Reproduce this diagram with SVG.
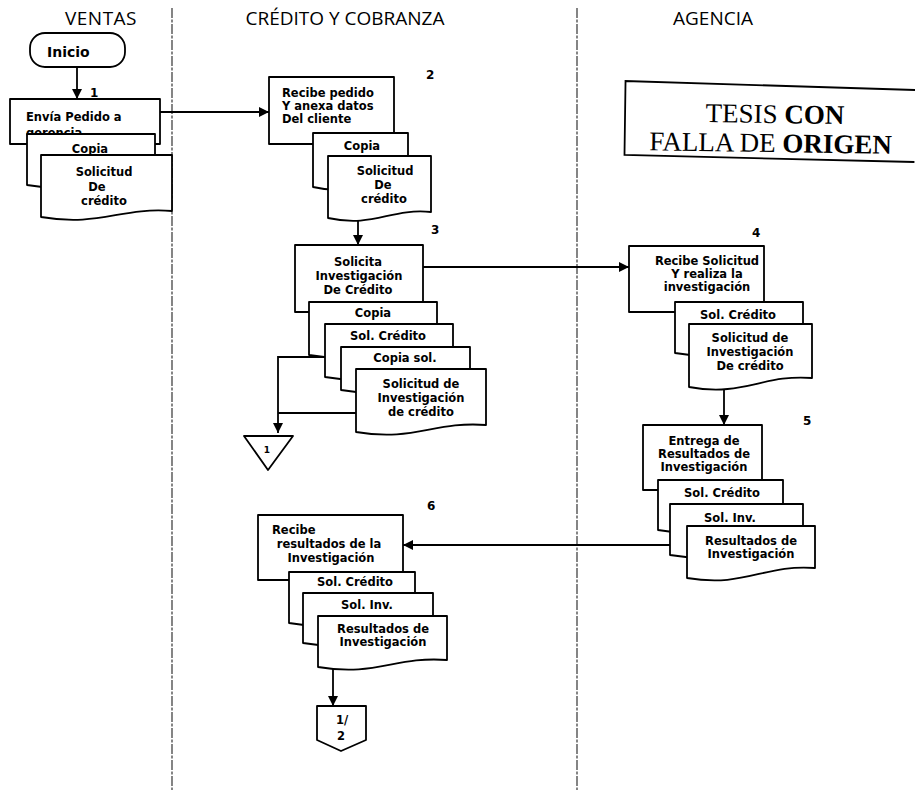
<svg xmlns="http://www.w3.org/2000/svg" width="915" height="793" viewBox="0 0 915 793">
  <defs>
    <marker id="arrow" viewBox="0 0 10 10" refX="10" refY="5" markerWidth="11" markerHeight="10" markerUnits="userSpaceOnUse" orient="auto">
      <path d="M0 0 L10 5 L0 10 Z" fill="#000"/>
    </marker>
    <style>
      .lane { stroke: #222; stroke-width: 1.1; stroke-dasharray: 10 1.5 3 1.5; fill: none; }
      .hdr { font-family: "Open Sans", "Noto Sans", sans-serif; font-size: 19px; font-weight: 500; fill: #000; }
      .shape { fill: #fff; stroke: #000; stroke-width: 1.8; stroke-linejoin: round; }
      .line { fill: none; stroke: #000; stroke-width: 1.8; }
      .t { font-family: "DejaVu Sans", "Open Sans", sans-serif; font-weight: 700; font-size: 11.5px; fill: #000; }
      .c { text-anchor: middle; }
      .num { font-family: "DejaVu Sans", "Open Sans", sans-serif; font-weight: 700; font-size: 12px; fill: #000; }
      .stamp { font-family: "Liberation Serif", "DejaVu Serif", serif; font-size: 27px; fill: #000; }
    </style>
  </defs>

  <rect width="915" height="793" fill="#fff"/>

  <!-- swimlanes -->
  <g id="lanes">
    <line class="lane" x1="172" y1="8" x2="172" y2="790"/>
    <line class="lane" x1="577" y1="8" x2="577" y2="790"/>
    <text class="hdr" x="101" y="25" text-anchor="middle" letter-spacing="0.5">VENTAS</text>
    <text class="hdr" x="345" y="25" text-anchor="middle">CRÉDITO Y COBRANZA</text>
    <text class="hdr" x="713" y="25" text-anchor="middle">AGENCIA</text>
  </g>

  <!-- step numbers -->
  <g id="step-numbers">
    <text class="num" x="90" y="97">1</text>
    <text class="num" x="426" y="79">2</text>
    <text class="num" x="431" y="234">3</text>
    <text class="num" x="752" y="237">4</text>
    <text class="num" x="803" y="425">5</text>
    <text class="num" x="427" y="510">6</text>
  </g>

  <!-- connectors -->
  <g id="connectors">
    <line class="line" x1="77" y1="67" x2="77" y2="99" marker-end="url(#arrow)"/>
    <line class="line" x1="160" y1="112" x2="269" y2="112" marker-end="url(#arrow)"/>
    <line class="line" x1="358" y1="219" x2="358" y2="245" marker-end="url(#arrow)"/>
    <line class="line" x1="423" y1="267" x2="629" y2="267" marker-end="url(#arrow)"/>
    <path class="line" d="M325 357 H278 V433" marker-end="url(#arrow)"/>
    <line class="line" x1="356" y1="413" x2="278" y2="413"/>
    <line class="line" x1="724" y1="386" x2="724" y2="425" marker-end="url(#arrow)"/>
    <line class="line" x1="687" y1="545" x2="403" y2="545" marker-end="url(#arrow)"/>
    <line class="line" x1="333" y1="668" x2="333" y2="706" marker-end="url(#arrow)"/>
  </g>

  <!-- start terminal -->
  <g id="inicio">
    <rect class="shape" x="30" y="33" width="95" height="34" rx="15"/>
    <text class="t" x="47" y="57" style="font-size:14px">Inicio</text>
  </g>

  <!-- step 1: Ventas -->
  <g id="envia-pedido">
    <rect class="shape" x="10" y="99" width="150" height="45"/>
    <text class="t" x="26" y="121">Envía Pedido a</text>
    <text class="t" x="26" y="137">gerencia</text>
    <path class="shape" d="M27 134 H155 V180 C104 176 85 195 27 185 Z"/>
    <text class="t c" x="90" y="153">Copia</text>
    <path class="shape" d="M41 155 H172 V211 C120 207 100 227 41 217 Z"/>
    <text class="t c" x="104" y="176">Solicitud</text>
    <text class="t c" x="97" y="191">De</text>
    <text class="t c" x="104" y="205">crédito</text>
  </g>

  <!-- step 2 -->
  <g id="recibe-pedido">
    <rect class="shape" x="269" y="77" width="125" height="67"/>
    <text class="t" x="282" y="97">Recibe pedido</text>
    <text class="t" x="282" y="110">Y anexa datos</text>
    <text class="t" x="282" y="123">Del cliente</text>
    <path class="shape" d="M313 133 H408 V182 C370 178 356 197 313 187 Z"/>
    <text class="t c" x="362" y="150">Copia</text>
    <path class="shape" d="M328 156 H431 V212 C390 208 374 228 328 218 Z"/>
    <text class="t c" x="385" y="175">Solicitud</text>
    <text class="t c" x="383" y="189">De</text>
    <text class="t c" x="384" y="203">crédito</text>
  </g>

  <!-- step 3 -->
  <g id="solicita-investigacion">
    <rect class="shape" x="295" y="245" width="128" height="67"/>
    <text class="t c" x="358" y="266">Solicita</text>
    <text class="t c" x="359" y="280">Investigación</text>
    <text class="t c" x="358" y="294">De Crédito</text>
    <path class="shape" d="M309 302 H437 V350 C386 346 367 365 309 355 Z"/>
    <text class="t c" x="373" y="317">Copia</text>
    <path class="shape" d="M325 324 H453 V372 C402 368 383 387 325 377 Z"/>
    <text class="t c" x="388" y="340">Sol. Crédito</text>
    <path class="shape" d="M341 347 H470 V385 C418 381 399 400 341 390 Z"/>
    <text class="t c" x="405" y="362">Copia sol.</text>
    <path class="shape" d="M356 369 H486 V425 C434 421 414 442 356 432 Z"/>
    <text class="t c" x="421" y="388">Solicitud de</text>
    <text class="t c" x="421" y="402">Investigación</text>
    <text class="t c" x="421" y="416">de crédito</text>
  </g>

  <!-- file connector -->
  <g id="archivo-1">
    <path class="shape" d="M244 436 H293 L268 470 Z"/>
    <text class="t c" x="267" y="453" style="font-size:9px">1</text>
  </g>

  <!-- step 4: Agencia -->
  <g id="recibe-solicitud">
    <rect class="shape" x="629" y="246" width="135" height="66"/>
    <text class="t c" x="707" y="265">Recibe Solicitud</text>
    <text class="t c" x="707" y="278">Y realiza la</text>
    <text class="t c" x="707" y="291">investigación</text>
    <path class="shape" d="M675 302 H803 V348 C752 344 733 363 675 353 Z"/>
    <text class="t c" x="738" y="319">Sol. Crédito</text>
    <path class="shape" d="M689 324 H812 V378 C763 374 744 397 689 387 Z"/>
    <text class="t c" x="750" y="342">Solicitud de</text>
    <text class="t c" x="750" y="356">Investigación</text>
    <text class="t c" x="750" y="370">De crédito</text>
  </g>

  <!-- step 5 -->
  <g id="entrega-resultados">
    <rect class="shape" x="643" y="425" width="119" height="65"/>
    <text class="t c" x="704" y="445">Entrega de</text>
    <text class="t c" x="704" y="458">Resultados de</text>
    <text class="t c" x="704" y="471">Investigación</text>
    <path class="shape" d="M658 480 H783 V525 C733 521 714 540 658 530 Z"/>
    <text class="t c" x="722" y="497">Sol. Crédito</text>
    <path class="shape" d="M670 504 H803 V550 C750 546 730 565 670 555 Z"/>
    <text class="t c" x="730" y="522">Sol. Inv.</text>
    <path class="shape" d="M687 526 H815 V568 C764 564 745 588 687 578 Z"/>
    <text class="t c" x="751" y="545">Resultados de</text>
    <text class="t c" x="751" y="558">Investigación</text>
  </g>

  <!-- step 6 -->
  <g id="recibe-resultados">
    <rect class="shape" x="258" y="515" width="145" height="65"/>
    <text class="t" x="272" y="534">Recibe</text>
    <text class="t c" x="329" y="548">resultados de la</text>
    <text class="t c" x="331" y="562">Investigación</text>
    <path class="shape" d="M289 572 H415 V618 C365 614 346 633 289 623 Z"/>
    <text class="t c" x="355" y="586">Sol. Crédito</text>
    <path class="shape" d="M303 593 H433 V638 C381 634 362 653 303 643 Z"/>
    <text class="t c" x="367" y="609">Sol. Inv.</text>
    <path class="shape" d="M318 616 H447 V660 C395 656 376 677 318 667 Z"/>
    <text class="t c" x="383" y="633">Resultados de</text>
    <text class="t c" x="383" y="646">Investigación</text>
  </g>

  <!-- off-page connector -->
  <g id="continua-1-2">
    <path class="shape" d="M317 706 H366 V740 L341 751 L317 740 Z"/>
    <text class="t c" x="342" y="724">1/</text>
    <text class="t c" x="341" y="740">2</text>
  </g>

  <!-- stamp -->
  <g id="sello" transform="rotate(0.8 770 120)">
    <path class="line" d="M915 88 L625 83 L625 157 L915 160" stroke-width="1.6"/>
    <text class="stamp" x="775" y="123" text-anchor="middle">TESIS <tspan font-weight="700">CON</tspan></text>
    <text class="stamp" x="771" y="152" text-anchor="middle">FALLA DE <tspan font-weight="700">ORIGEN</tspan></text>
  </g>
</svg>
